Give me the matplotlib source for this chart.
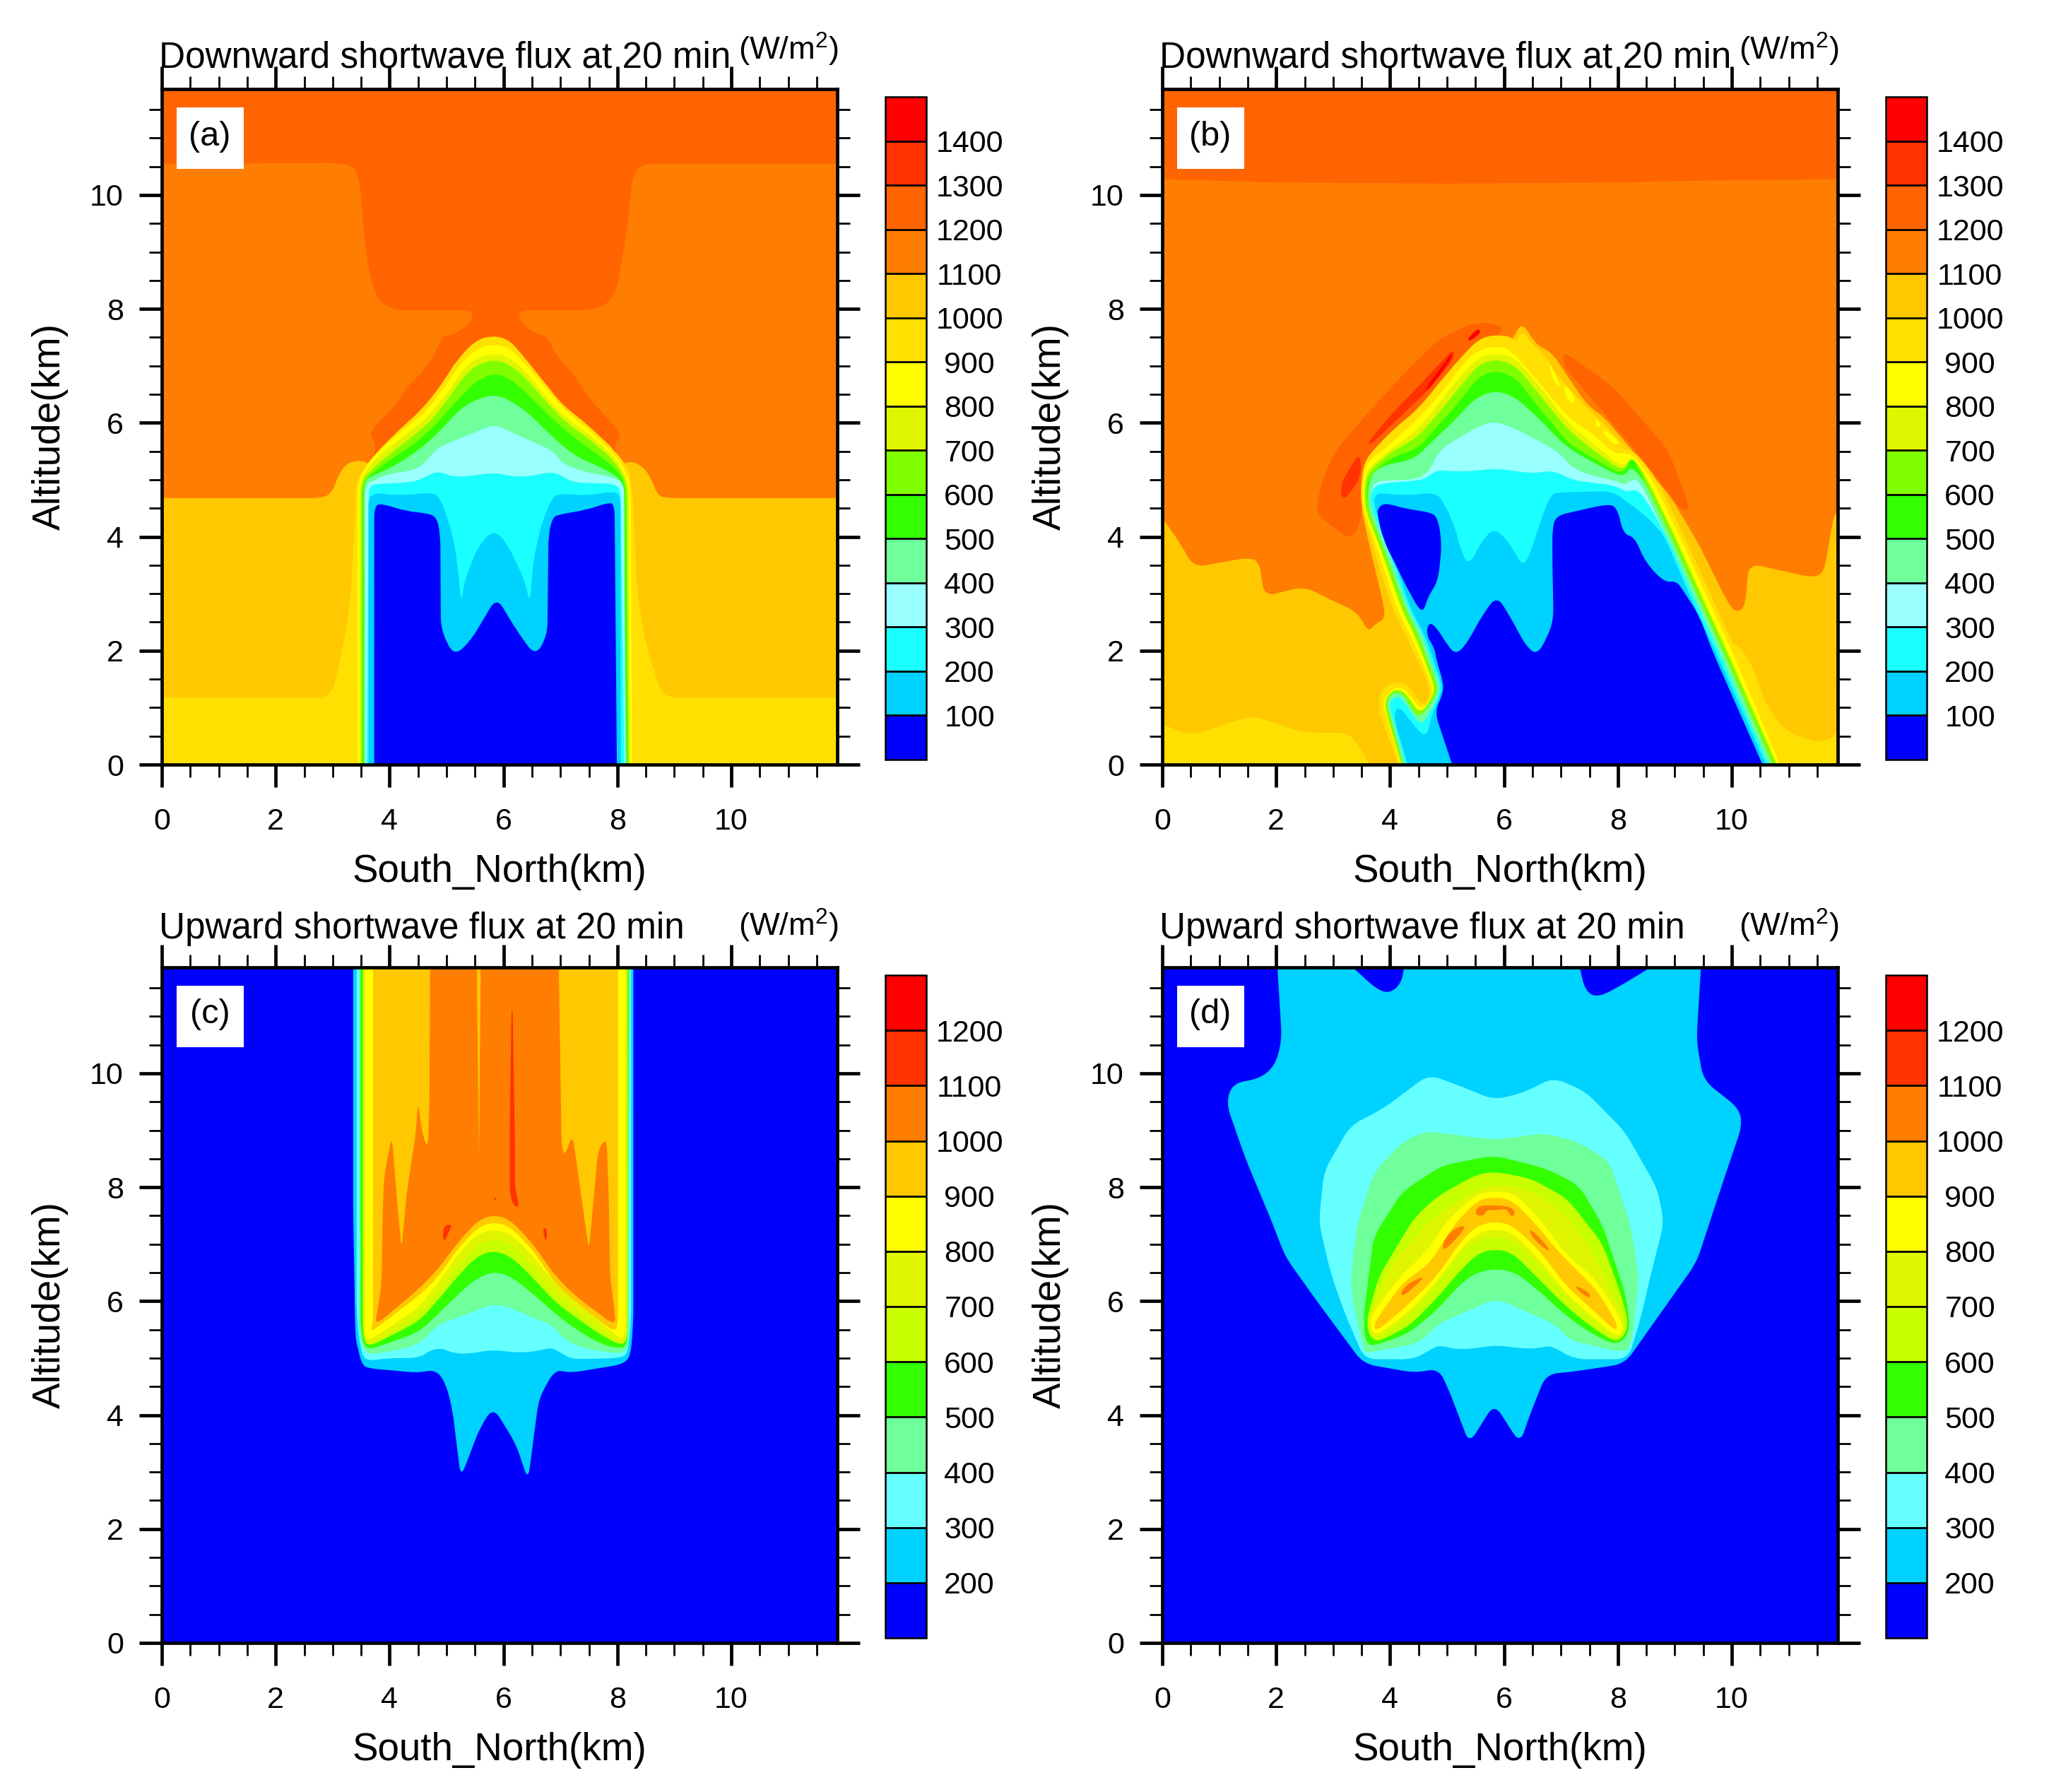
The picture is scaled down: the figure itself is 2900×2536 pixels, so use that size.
# -*- coding:utf-8 -*-
import numpy as np
import matplotlib
matplotlib.use('Agg')
import matplotlib.pyplot as plt
from matplotlib.colors import ListedColormap, BoundaryNorm
from matplotlib.cm import ScalarMappable
from matplotlib.patches import Rectangle, PathPatch
from matplotlib.path import Path
from matplotlib.ticker import MultipleLocator

plt.rcParams['font.family'] = ['Liberation Sans', 'DejaVu Sans']
plt.rcParams['mathtext.default'] = 'regular'

# colour levels
levels_down = [0, 100, 200, 300, 400, 500, 600, 700, 800, 900, 1000, 1100, 1200, 1300, 1400, 1500]
colors_down = ['#0000ff', '#00d2ff', '#1affff', '#99ffff', '#6fff9b', '#33ff00', '#80ff00', '#e0f500',
               '#ffff00', '#ffe000', '#ffc800', '#ff7d00', '#ff6400', '#ff3200', '#ff0000']
ticks_down = [100, 200, 300, 400, 500, 600, 700, 800, 900, 1000, 1100, 1200, 1300, 1400]
levels_up = [100, 200, 300, 400, 500, 600, 700, 800, 900, 1000, 1100, 1200, 1300]
colors_up = ['#0000ff', '#00d2ff', '#66ffff', '#6fff9b', '#33ff00', '#c8ff00', '#e0f500',
             '#ffff00', '#ffc800', '#ff7d00', '#ff3200', '#ff0000']
ticks_up = [200, 300, 400, 500, 600, 700, 800, 900, 1000, 1100, 1200]

# (a) contour outlines, km
a_1150_l = [(0, 0), (0, 10.55), (3.13, 10.56), (3.36, 10.51), (3.47, 10.3), (3.59, 8.9), (3.76, 8.2), (4.04, 7.98),
            (5.4, 7.98), (5.47, 7.92), (5.41, 7.74), (5.14, 7.55), (4.91, 7.53), (4.81, 7.22), (4.6, 6.91),
            (4.31, 6.64), (4.15, 6.35), (3.73, 5.94), (3.65, 5.77), (3.78, 5.63), (3.6, 5.0), (3.6, 0)]
a_1150_r = [(11.9, 0), (11.9, 10.55), (8.6, 10.55), (8.4, 10.52), (8.26, 10.3), (8.17, 9.4), (8.0, 8.4), (7.86, 8.1),
            (7.54, 7.98), (6.36, 7.98), (6.26, 7.92), (6.3, 7.76), (6.55, 7.57), (6.77, 7.53), (6.9, 7.2),
            (7.21, 6.89), (7.5, 6.43), (7.99, 5.9), (8.06, 5.73), (7.93, 5.63), (8.1, 5.0), (8.1, 0)]
a_1050_l = [(0, 0), (0, 4.68), (2.85, 4.68), (3.0, 4.8), (3.11, 5.11), (3.28, 5.32), (3.57, 5.34), (3.7, 5.2), (3.7, 0)]
a_1050_r = [(11.9, 0), (11.9, 4.68), (8.82, 4.68), (8.7, 4.74), (8.61, 4.99), (8.45, 5.24), (8.2, 5.34), (8.0, 5.2), (8.0, 0)]
a_950_l = [(0, 0), (0, 1.18), (2.96, 1.18), (3.08, 1.6), (3.24, 2.37), (3.32, 3.0), (3.42, 4.95), (3.6, 5.2), (3.6, 0)]
a_950_r = [(11.9, 0), (11.9, 1.18), (8.8, 1.18), (8.51, 2.07), (8.35, 3.0), (8.26, 4.9), (8.15, 5.2), (8.0, 0)]
a_950 = [(3.32, 0), (3.4, 4.9), (3.49, 5.11), (3.73, 5.44), (4.15, 5.86), (4.56, 6.23), (4.89, 6.64), (5.18, 7.1), (5.51, 7.45),
         (5.8, 7.53), (6.09, 7.47), (6.34, 7.18), (6.67, 6.77), (7.04, 6.31), (7.46, 5.98), (7.95, 5.52), (8.2, 5.19),
         (8.24, 4.99), (8.35, 0)]
a_850 = [(3.44, 0), (3.44, 4.9), (3.55, 5.2), (3.8, 5.5), (4.2, 5.85), (4.6, 6.15), (4.95, 6.6), (5.25, 7.05), (5.55, 7.32),
         (5.85, 7.38), (6.1, 7.32), (6.4, 7.02), (6.75, 6.6), (7.1, 6.2), (7.5, 5.88), (7.95, 5.45), (8.15, 5.15),
         (8.23, 4.9), (8.26, 0)]
a_750 = [(3.48, 0), (3.48, 4.95), (3.6, 5.2), (3.9, 5.5), (4.3, 5.8), (4.65, 6.08), (5.0, 6.5), (5.3, 6.95), (5.55, 7.15),
         (5.85, 7.22), (6.1, 7.15), (6.4, 6.9), (6.7, 6.5), (7.1, 6.08), (7.5, 5.8), (7.95, 5.4), (8.12, 5.12),
         (8.2, 4.9), (8.22, 0)]
a_650 = [(3.5, 0), (3.5, 4.95), (3.65, 5.15), (4.0, 5.45), (4.35, 5.72), (4.7, 6.0), (5.05, 6.45), (5.3, 6.82), (5.55, 7.03),
         (5.85, 7.11), (6.1, 7.03), (6.4, 6.78), (6.7, 6.42), (7.1, 6.0), (7.5, 5.72), (7.9, 5.38), (8.08, 5.12),
         (8.17, 4.9), (8.2, 0)]
a_550 = [(3.53, 0), (3.53, 4.95), (3.7, 5.12), (4.05, 5.38), (4.4, 5.6), (4.75, 5.9), (5.1, 6.3), (5.4, 6.62), (5.6, 6.78),
         (5.85, 6.87), (6.1, 6.78), (6.35, 6.58), (6.7, 6.22), (7.1, 5.85), (7.5, 5.55), (7.85, 5.3), (8.05, 5.1),
         (8.14, 4.9), (8.18, 0)]
a_450 = [(3.55, 0), (3.55, 4.95), (3.65, 5.05), (3.8, 5.11), (4.15, 5.28), (4.52, 5.53), (4.85, 5.82), (5.26, 6.27),
         (5.6, 6.44), (5.84, 6.49), (6.09, 6.41), (6.42, 6.19), (6.84, 5.77), (7.25, 5.42), (7.66, 5.24), (7.99, 5.07),
         (8.1, 4.9), (8.16, 0)]
a_350 = [(3.57, 0), (3.57, 4.9), (3.73, 4.99), (3.94, 5.09), (4.52, 5.19), (4.73, 5.44), (4.89, 5.59), (5.26, 5.73), (5.6, 5.88),
         (5.84, 5.97), (6.09, 5.86), (6.55, 5.65), (6.88, 5.5), (7.04, 5.28), (7.37, 5.15), (7.91, 5.05), (8.12, 4.95), (8.14, 0)]
a_250 = [(3.6, 0), (3.63, 4.8), (3.67, 4.9), (3.8, 4.93), (4.35, 4.95), (4.56, 5.01), (4.77, 5.13), (4.93, 5.13), (5.1, 5.05),
         (5.47, 5.07), (5.84, 5.13), (6.17, 5.05), (6.55, 5.07), (6.75, 5.13), (6.96, 5.11), (7.21, 4.95), (7.95, 4.93),
         (8.06, 4.82), (8.12, 0)]
a_150 = [(3.63, 0), (3.63, 4.78), (4.19, 4.72), (4.77, 4.78), (4.89, 4.66), (5.02, 4.33), (5.14, 3.87), (5.2, 3.42), (5.26, 2.82),
         (5.31, 3.21), (5.55, 3.83), (5.84, 4.14), (6.09, 3.83), (6.38, 3.21), (6.46, 2.82), (6.53, 3.62), (6.67, 4.24),
         (6.84, 4.66), (6.96, 4.76), (7.46, 4.72), (7.95, 4.8), (8.05, 4.7), (8.06, 0)]
a_50 = [(3.73, 0), (3.73, 4.55), (3.88, 4.58), (4.27, 4.45), (4.69, 4.41), (4.83, 4.33), (4.89, 4.04), (4.9, 2.37), (5.13, 1.9),
        (5.42, 2.17), (5.88, 2.94), (6.22, 2.37), (6.56, 1.9), (6.77, 2.27), (6.79, 4.04), (6.86, 4.33), (6.96, 4.39),
        (7.46, 4.47), (7.83, 4.6), (7.95, 4.57), (7.99, 0)]

# (b) background bands
b_1150 = [(0, 0), (0, 10.28), (2, 10.22), (5, 10.2), (8, 10.22), (9.3, 10.25), (11.9, 10.28), (11.9, 0)]
b_1250_l = [(3.32, 3.93), (2.85, 4.28), (2.7, 4.45), (2.73, 4.66), (2.85, 5.11), (3.05, 5.52), (3.54, 6.1), (4.27, 6.89),
            (4.86, 7.47), (5.45, 7.76), (5.89, 7.74), (6.0, 7.6), (5.5, 7.3), (4.5, 6.3), (3.5, 5.0), (3.5, 4.3)]
b_1250_r = [(7.04, 7.26), (7.95, 6.6), (8.88, 5.53), (9.27, 4.49), (9.13, 4.45), (8.49, 5.28), (7.71, 6.23), (7.04, 7.0)]
b_1350_a = [(3.12, 4.9), (3.17, 4.61), (3.5, 5.05), (3.47, 5.5)]
b_1350_b = [(3.61, 5.65), (3.98, 6.1), (4.62, 6.77), (5.11, 7.3), (5.13, 7.14), (4.66, 6.56), (4.22, 6.15), (3.64, 5.6)]
b_1450_a = [(4.62, 6.6), (4.96, 7.06), (5.11, 7.26), (5.06, 7.1), (4.66, 6.56)]
b_1450_b = [(5.35, 7.47), (5.55, 7.67), (5.6, 7.58), (5.4, 7.43)]
b_1050_l = [(0, 0), (0, 4.33), (0.32, 3.88), (0.55, 3.46), (1.47, 3.63), (1.7, 3.58), (1.79, 2.95), (2.5, 3.13), (2.9, 2.92),
            (3.44, 2.67), (3.61, 2.32), (3.76, 2.49), (3.9, 2.55), (3.9, 2.75), (3.6, 4.0), (3.48, 4.6), (3.7, 4.5), (5.5, 0)]
b_1050_r = [(11.9, 0), (11.9, 4.5), (11.79, 4.38), (11.62, 3.38), (11.44, 3.28), (10.3, 3.53), (10.23, 2.75), (10.06, 2.67),
            (9.91, 2.88), (9.42, 3.87), (8.93, 4.7), (8.44, 5.28), (8.0, 5.2), (9.0, 0)]
b_1050_up = [(6.0, 7.4), (6.16, 7.47), (6.31, 7.78), (6.58, 7.35), (6.82, 7.26), (7.46, 6.31), (7.76, 6.1), (8.24, 5.53),
             (8.49, 5.24), (8.4, 4.8), (7.0, 6.0), (6.0, 7.0)]
b_950_l = [(0, 0), (0, 0.71), (0.49, 0.51), (1.58, 0.86), (2.5, 0.56), (3.3, 0.56), (3.65, 0)]
b_950_r = [(10.0, 2.2), (10.32, 1.84), (10.6, 1.06), (10.93, 0.6), (11.49, 0.38), (11.82, 0.48), (11.9, 0.8), (11.9, 0), (10.0, 0)]
b_950_up = [(6.33, 7.63), (6.48, 7.39), (6.73, 7.18), (6.92, 6.85), (7.36, 6.35), (7.71, 6.02), (8.1, 5.6), (8.24, 5.48),
            (7.46, 6.02), (6.73, 6.72), (6.33, 7.26), (6.19, 7.43)]
b_850_a = [(6.78, 7.1), (6.92, 6.8), (7.0, 6.6), (6.85, 6.75)]
b_850_b = [(7.07, 6.7), (7.25, 6.45), (7.22, 6.3), (7.05, 6.5)]
b_850_c = [(7.6, 6.1), (7.72, 5.95), (7.62, 5.9)]
b_850_d = [(7.75, 5.9), (8.05, 5.65), (7.95, 5.6), (7.75, 5.8)]

# (b) cloud: left leg with the hook, top, right leg
b_leg_950 = [(4.15, 0), (3.87, 0.73), (3.77, 1.1), (3.9, 1.39), (4.17, 1.47), (4.37, 1.33), (4.56, 1.02), (4.7, 1.18), (4.67, 1.43),
             (4.53, 1.72), (4.28, 2.26), (4.05, 2.71), (3.75, 3.66), (3.49, 4.53)]
b_leg_850 = [(4.18, 0), (3.95, 0.8), (3.87, 1.06), (3.98, 1.29), (4.17, 1.37), (4.34, 1.24), (4.56, 0.93), (4.75, 1.22), (4.72, 1.43),
             (4.6, 1.72), (4.36, 2.26), (4.13, 2.71), (3.82, 3.66), (3.52, 4.53)]
b_leg_750 = [(4.2, 0), (3.97, 0.8), (3.9, 1.08), (4.0, 1.27), (4.17, 1.33), (4.33, 1.18), (4.53, 0.86), (4.78, 1.25), (4.76, 1.43),
             (4.65, 1.72), (4.44, 2.26), (4.21, 2.71), (3.88, 3.66), (3.55, 4.53)]
b_leg_550 = [(4.23, 0), (4.0, 0.85), (3.93, 1.08), (4.02, 1.24), (4.17, 1.28), (4.3, 1.13), (4.5, 0.78), (4.83, 1.25), (4.81, 1.45),
             (4.7, 1.72), (4.51, 2.26), (4.28, 2.71), (3.94, 3.66), (3.6, 4.53)]
b_leg_350 = [(4.27, 0), (4.04, 0.85), (3.98, 1.05), (4.06, 1.18), (4.17, 1.2), (4.28, 1.06), (4.55, 0.65), (4.88, 1.25), (4.85, 1.5),
             (4.75, 1.72), (4.58, 2.26), (4.33, 2.71), (4.0, 3.66), (3.66, 4.53)]
b_leg_150 = [(4.31, 0), (4.07, 0.8), (4.1, 0.98), (4.2, 0.98), (4.34, 0.78), (4.64, 0.44), (4.72, 0.85), (4.9, 1.25), (4.9, 1.45),
             (4.8, 1.72), (4.62, 2.26), (4.37, 2.71), (4.05, 3.66), (3.72, 4.53)]
b_top_950 = [(3.49, 4.99), (3.56, 5.36), (4.03, 5.86), (4.52, 6.27), (4.81, 6.64), (5.2, 7.1), (5.55, 7.47), (5.84, 7.55), (6.19, 7.5),
             (6.4, 7.2), (6.7, 6.85), (7.25, 6.25), (7.65, 5.95), (8.05, 5.55), (8.3, 5.5)]
b_top_850 = [(3.54, 5.25), (4.03, 5.65), (4.52, 6.1), (4.86, 6.48), (5.2, 6.93), (5.5, 7.26), (5.84, 7.35), (6.09, 7.3), (6.43, 6.93),
             (6.77, 6.52), (7.17, 6.06), (7.56, 5.81), (7.95, 5.44), (8.24, 5.48)]
b_top_750 = [(3.56, 5.15), (4.03, 5.55), (4.45, 5.85), (4.75, 6.2), (5.2, 6.78), (5.55, 7.15), (5.84, 7.22), (6.19, 7.15), (6.58, 6.7),
             (7.12, 6.0), (7.46, 5.72), (8.1, 5.2), (8.24, 5.45)]
b_top_650 = [(3.57, 5.1), (4.03, 5.5), (4.45, 5.72), (4.75, 6.05), (5.2, 6.6), (5.55, 7.02), (5.84, 7.12), (6.19, 7.02), (6.58, 6.55),
             (7.12, 5.88), (7.46, 5.6), (8.1, 5.14), (8.24, 5.42)]
b_top_550 = [(3.59, 5.03), (4.03, 5.4), (4.47, 5.53), (4.76, 5.86), (5.2, 6.35), (5.55, 6.81), (5.84, 6.92), (6.19, 6.81), (6.58, 6.31),
             (7.12, 5.65), (7.46, 5.44), (8.1, 5.07), (8.24, 5.45)]
b_top_450 = [(3.63, 5.03), (3.83, 5.24), (4.42, 5.36), (4.71, 5.65), (5.11, 6.02), (5.5, 6.44), (5.84, 6.57), (6.19, 6.46), (6.63, 6.06),
             (7.07, 5.6), (7.46, 5.36), (8.1, 5.03), (8.22, 5.25)]
b_top_350 = [(3.68, 4.9), (3.83, 4.99), (4.42, 5.0), (4.67, 5.11), (4.86, 5.52), (5.2, 5.73), (5.55, 5.94), (5.84, 6.03), (6.19, 5.9),
             (6.63, 5.67), (6.97, 5.48), (7.2, 5.2), (7.61, 5.05), (7.95, 4.99), (8.12, 4.9), (8.29, 5.03), (8.42, 4.9)]
b_top_250 = [(3.66, 4.78), (3.78, 4.93), (4.52, 4.99), (4.67, 5.05), (4.81, 5.17), (5.06, 5.15), (5.45, 5.15), (5.84, 5.2), (6.53, 5.11),
             (6.87, 5.17), (7.2, 4.99), (7.95, 4.9), (8.15, 4.78), (8.32, 4.84), (8.49, 4.66)]
b_top_150 = [(3.73, 4.78), (4.27, 4.72), (4.81, 4.78), (4.96, 4.57), (5.16, 4.12), (5.23, 3.79), (5.38, 3.48), (5.6, 3.91), (5.84, 4.17),
             (6.14, 3.83), (6.33, 3.46), (6.48, 3.75), (6.63, 4.24), (6.82, 4.74), (6.97, 4.78), (7.9, 4.8), (8.15, 4.62),
             (8.44, 4.41), (8.69, 4.16)]
b_rleg_950 = [(8.69, 5), (9.17, 4), (9.62, 3), (10.08, 2), (10.96, 0)]
b_rleg_850 = [(8.61, 5), (9.09, 4), (9.54, 3), (10.0, 2), (10.85, 0)]
b_rleg_750 = [(8.52, 5), (9.0, 4), (9.45, 3), (9.91, 2), (10.79, 0)]
b_rleg_550 = [(8.45, 5), (8.93, 4), (9.38, 3), (9.84, 2), (10.72, 0)]
b_rleg_350 = [(8.86, 4), (9.31, 3), (9.77, 2), (10.65, 0)]
b_rleg_150 = [(8.82, 4), (9.25, 3), (9.71, 2), (10.6, 0)]
b_50_a = [(3.78, 4.37), (3.78, 4.49), (3.9, 4.6), (4.27, 4.49), (4.71, 4.43), (4.84, 4.33), (4.91, 3.87), (4.84, 3.21), (4.67, 2.96),
          (4.57, 2.63), (4.35, 3.0), (4.08, 3.54), (3.88, 3.95)]
b_50_b = [(5.09, 0), (4.78, 0.93), (4.92, 1.22), (4.94, 1.43), (4.81, 1.84), (4.78, 2.05), (4.64, 2.26), (4.67, 2.5), (4.81, 2.42),
          (5.01, 2.09), (5.16, 1.93), (5.35, 2.13), (5.6, 2.59), (5.87, 2.97), (6.09, 2.63), (6.38, 2.09), (6.58, 1.92),
          (6.77, 2.26), (6.87, 2.55), (6.85, 3.54), (6.85, 4.16), (6.92, 4.37), (7.27, 4.45), (7.8, 4.57), (7.98, 4.53),
          (8.1, 4.04), (8.29, 4.0), (8.49, 3.54), (8.83, 3.19), (9.03, 3.23), (9.18, 3.0), (9.42, 2.63), (9.67, 1.97), (10.54, 0)]

# (c)
c_250 = [(3.36, 11.9), (3.36, 7.6), (3.4, 5.35), (3.44, 5.19), (3.51, 4.9), (3.61, 4.82), (4.11, 4.78), (4.48, 4.74), (4.81, 4.8),
         (4.98, 4.57), (5.1, 4.12), (5.25, 2.9), (5.59, 3.79), (5.82, 4.14), (6.22, 3.49), (6.43, 2.85), (6.62, 4.29), (6.9, 4.8),
         (7.17, 4.74), (7.66, 4.82), (8.14, 4.9), (8.24, 5.1), (8.28, 5.69), (8.28, 11.9)]
c_350 = [(3.42, 11.9), (3.42, 5.8), (3.48, 5.2), (3.57, 4.94), (3.94, 5.0), (4.52, 5.0), (4.73, 5.15), (4.93, 5.17), (5.1, 5.09),
         (5.39, 5.07), (5.8, 5.15), (6.26, 5.09), (6.63, 5.13), (6.84, 5.19), (7.04, 5.07), (7.21, 4.98), (8.04, 5.0), (8.18, 5.07),
         (8.24, 5.69), (8.24, 11.9)]
c_450 = [(3.47, 11.9), (3.47, 5.5), (3.55, 5.05), (4.1, 5.13), (4.54, 5.25), (4.85, 5.6), (5.26, 5.73), (5.6, 5.87), (5.84, 5.95),
         (6.17, 5.87), (6.55, 5.69), (6.84, 5.6), (7.08, 5.31), (7.42, 5.17), (8.08, 5.07), (8.2, 5.2), (8.22, 11.9)]
c_550 = [(3.49, 11.9), (3.49, 5.5), (3.57, 5.13), (3.94, 5.25), (4.52, 5.46), (4.85, 5.77), (5.18, 6.1), (5.51, 6.39), (5.84, 6.53),
         (6.17, 6.41), (6.55, 6.1), (6.92, 5.77), (7.25, 5.52), (7.66, 5.27), (7.99, 5.17), (8.17, 5.2), (8.2, 11.9)]
c_650 = [(3.53, 11.9), (3.53, 5.4), (3.61, 5.19), (3.94, 5.35), (4.52, 5.65), (4.85, 6.02), (5.26, 6.51), (5.55, 6.8), (5.84, 6.89),
         (6.13, 6.78), (6.42, 6.51), (6.92, 5.97), (7.25, 5.73), (7.66, 5.44), (7.99, 5.25), (8.12, 5.25), (8.18, 5.4), (8.18, 11.9)]
c_750 = [(3.55, 11.9), (3.55, 5.4), (3.61, 5.22), (3.94, 5.4), (4.52, 5.78), (4.85, 6.15), (5.26, 6.7), (5.55, 7.0), (5.84, 7.09),
         (6.13, 7.0), (6.42, 6.7), (6.92, 6.12), (7.25, 5.85), (7.66, 5.55), (7.99, 5.3), (8.12, 5.27), (8.16, 5.5), (8.16, 11.9)]
c_850 = [(3.57, 11.9), (3.57, 5.4), (3.62, 5.3), (3.94, 5.5), (4.52, 5.9), (4.85, 6.32), (5.26, 6.9), (5.55, 7.18), (5.84, 7.26),
         (6.13, 7.18), (6.42, 6.9), (6.92, 6.3), (7.25, 6.0), (7.66, 5.68), (7.99, 5.38), (8.1, 5.33), (8.14, 5.5), (8.14, 11.9)]
c_950 = [(3.71, 11.9), (3.71, 5.6), (3.65, 5.44), (4.52, 6.1), (4.85, 6.42), (5.18, 6.9), (5.55, 7.3), (5.84, 7.39), (6.13, 7.3),
         (6.51, 6.9), (6.92, 6.3), (7.25, 6.0), (7.95, 5.45), (8.01, 5.6), (8.01, 11.9)]
c_1050 = [(3.73, 5.56), (3.8, 5.9), (3.86, 6.31), (3.88, 7.6), (3.9, 8.17), (4.04, 8.91), (4.12, 7.9), (4.21, 6.89), (4.3, 7.9),
          (4.46, 8.95), (4.5, 9.52), (4.56, 8.99), (4.67, 8.66), (4.7, 9.5), (4.71, 11.9), (6.97, 11.9), (7.02, 8.71), (7.08, 8.54),
          (7.21, 8.95), (7.5, 6.88), (7.66, 8.66), (7.81, 8.87), (7.85, 7.75), (7.87, 6.43), (7.95, 5.85), (7.97, 5.56), (7.25, 6.1),
          (6.92, 6.43), (6.51, 7.01), (6.13, 7.42), (5.84, 7.52), (5.55, 7.42), (5.18, 7.01), (4.85, 6.56), (4.52, 6.22)]
c_950_sliver = [(5.53, 11.9), (5.6, 11.9), (5.57, 8.5)]
c_1150_a = [(6.14, 11.12), (6.11, 9.0), (6.11, 7.85), (6.2, 7.65), (6.28, 7.67), (6.2, 7.96), (6.2, 8.8), (6.16, 11.12)]
c_1150_b = [(4.93, 7.22), (4.95, 7.01), (5.06, 7.26), (5.1, 7.34), (4.98, 7.34)]
c_1150_c = [(6.69, 7.22), (6.75, 7.01), (6.77, 7.24), (6.72, 7.3)]
c_1150_d = [(5.82, 7.8), (5.86, 7.76), (5.88, 7.82)]

# (d)
d_250 = [(2.02, 11.9), (2.1, 10.58), (1.98, 10.13), (1.7, 9.9), (1.24, 9.83), (1.12, 9.48), (1.47, 8.48), (1.93, 7.38), (2.16, 6.78),
         (2.73, 5.98), (3.53, 4.9), (4.45, 4.74), (4.85, 4.82), (5.02, 4.47), (5.25, 3.87), (5.39, 3.5), (5.83, 4.2), (6.28, 3.5),
         (6.46, 4.02), (6.74, 4.72), (7.2, 4.76), (8.12, 4.9), (9.38, 6.68), (9.84, 8.08), (10.18, 9.08), (10.13, 9.38), (9.5, 9.88),
         (9.38, 10.58), (9.46, 11.9), (8.64, 11.9), (8.12, 11.58), (7.66, 11.33), (7.43, 11.43), (7.32, 11.9), (4.25, 11.9), (4.2, 11.58),
         (3.99, 11.4), (3.76, 11.48), (3.3, 11.9)]
d_350 = [(3.55, 4.98), (4.42, 4.98), (4.71, 5.15), (4.87, 5.23), (5.16, 5.15), (5.49, 5.17), (5.86, 5.23), (6.28, 5.17), (6.61, 5.17),
         (6.82, 5.23), (7.23, 4.98), (8.18, 4.98), (8.4, 5.7), (8.58, 6.48), (8.81, 7.38), (8.69, 7.98), (8.12, 8.98), (7.43, 9.68),
         (6.86, 9.93), (6.4, 9.68), (5.83, 9.53), (5.3, 9.75), (4.68, 9.98), (3.88, 9.38), (3.3, 9.08), (2.84, 8.28), (2.75, 7.38),
         (2.96, 6.48), (3.2, 5.8)]
d_450 = [(3.55, 5.11), (3.59, 5.09), (4.54, 5.27), (4.83, 5.6), (5.33, 5.81), (5.86, 6.05), (6.4, 5.81), (6.9, 5.6), (7.15, 5.31),
         (8.14, 5.09), (8.25, 5.3), (8.37, 6.43), (8.22, 7.34), (7.85, 8.46), (7.31, 8.79), (6.73, 8.95), (5.82, 8.83), (4.62, 8.99),
         (4.21, 8.79), (3.71, 8.25), (3.42, 7.34), (3.32, 6.51), (3.32, 6.1)]
d_550 = [(3.57, 5.27), (3.71, 5.21), (4.33, 5.44), (4.83, 5.85), (5.24, 6.31), (5.53, 6.51), (5.86, 6.57), (6.2, 6.51), (6.61, 6.18),
         (7.11, 5.73), (7.52, 5.44), (8.0, 5.21), (8.22, 5.48), (8.14, 6.1), (7.73, 7.34), (7.31, 8.04), (6.73, 8.33), (5.82, 8.56),
         (4.91, 8.38), (4.21, 7.92), (3.71, 7.13), (3.53, 5.69)]
d_650 = [(3.71, 5.25), (4.33, 5.56), (4.83, 6.06), (5.24, 6.55), (5.57, 6.86), (5.86, 6.91), (6.15, 6.85), (6.61, 6.39), (7.11, 5.89),
         (7.52, 5.56), (8.0, 5.25), (8.2, 5.56), (8.06, 6.1), (7.73, 7.01), (7.11, 7.8), (6.48, 8.15), (5.86, 8.27), (5.53, 8.23),
         (4.83, 7.84), (4.42, 7.46), (3.8, 6.43), (3.57, 5.6)]
d_750 = [(3.71, 5.31), (4.33, 5.73), (4.83, 6.31), (5.24, 6.84), (5.53, 7.09), (5.86, 7.15), (6.15, 7.08), (6.61, 6.64), (7.11, 6.06),
         (7.52, 5.68), (8.0, 5.31), (8.14, 5.52), (8.0, 5.89), (7.6, 6.8), (7.11, 7.5), (6.48, 7.94), (5.82, 8.06), (5.24, 7.8),
         (4.62, 7.34), (4.0, 6.6), (3.59, 5.64)]
d_850 = [(3.72, 5.36), (4.33, 5.82), (4.83, 6.35), (5.24, 6.92), (5.53, 7.2), (5.86, 7.27), (6.15, 7.2), (6.61, 6.74), (7.11, 6.12),
         (7.52, 5.75), (7.99, 5.36), (8.12, 5.52), (8.0, 5.77), (7.6, 6.39), (7.11, 6.8), (6.61, 7.46), (6.2, 7.88), (5.86, 7.94),
         (5.53, 7.88), (5.04, 7.46), (4.62, 6.85), (4.17, 6.43), (3.63, 5.69)]
d_950 = [(3.75, 5.46), (4.33, 5.95), (4.83, 6.45), (5.24, 7.05), (5.53, 7.33), (5.86, 7.4), (6.15, 7.33), (6.61, 6.9), (7.11, 6.25),
         (7.52, 5.88), (7.97, 5.46), (7.99, 5.6), (7.64, 6.18), (7.31, 6.51), (6.9, 6.93), (6.57, 7.34), (6.15, 7.77), (5.86, 7.83),
         (5.53, 7.77), (5.12, 7.34), (4.71, 6.68), (4.21, 6.31), (3.71, 5.6)]
d_1050_a = [(5.53, 7.67), (5.49, 7.51), (5.64, 7.49), (5.7, 7.61), (5.86, 7.59), (6.05, 7.63), (6.11, 7.49), (6.2, 7.51), (6.15, 7.65), (5.82, 7.69)]
d_1050_b = [(5.29, 7.34), (5.31, 7.26), (4.95, 6.87), (4.91, 7.01), (5.08, 7.24)]
d_1050_c = [(4.64, 6.45), (4.21, 6.06), (4.19, 6.18), (4.38, 6.35)]
d_1050_d = [(6.44, 7.3), (6.8, 6.93), (6.77, 6.87), (6.48, 7.13)]
d_1050_e = [(7.23, 6.29), (7.52, 6.14), (7.5, 6.04), (7.31, 6.18)]

layers_a = [(1150, a_1150_l), (1150, a_1150_r), (1050, a_1050_l), (1050, a_1050_r), (950, a_950_l), (950, a_950_r),
            (950, a_950), (850, a_850), (750, a_750), (650, a_650), (550, a_550), (450, a_450), (350, a_350),
            (250, a_250), (150, a_150), (50, a_50)]
layers_b = [(1150, b_1150), (1250, b_1250_l), (1250, b_1250_r), (1350, b_1350_a), (1350, b_1350_b), (1450, b_1450_a), (1450, b_1450_b),
            (1050, b_1050_l), (1050, b_1050_r), (1050, b_1050_up), (950, b_950_l), (950, b_950_r),
            (950, b_leg_950 + b_top_950 + b_rleg_950), (950, b_950_up),
            (850, b_850_a), (850, b_850_b), (850, b_850_c), (850, b_850_d),
            (850, b_leg_850 + b_top_850 + b_rleg_850), (750, b_leg_750 + b_top_750 + b_rleg_750),
            (650, b_leg_750 + b_top_650 + b_rleg_750), (550, b_leg_550 + b_top_550 + b_rleg_550),
            (450, b_leg_550 + b_top_450 + b_rleg_550), (350, b_leg_350 + b_top_350 + b_rleg_350),
            (250, b_leg_350 + b_top_250 + b_rleg_350), (150, b_leg_150 + b_top_150 + b_rleg_150),
            (50, b_50_a), (50, b_50_b)]
layers_c = [(250, c_250), (350, c_350), (450, c_450), (550, c_550), (650, c_650), (750, c_750), (850, c_850), (950, c_950),
            (1050, c_1050), (950, c_950_sliver), (1150, c_1150_a), (1150, c_1150_b), (1150, c_1150_c), (1150, c_1150_d)]
layers_d = [(250, d_250), (350, d_350), (450, d_450), (550, d_550), (650, d_650), (750, d_750), (850, d_850), (950, d_950),
            (1050, d_1050_a), (1050, d_1050_b), (1050, d_1050_c), (1050, d_1050_d), (1050, d_1050_e)]

W, H = 2900, 2536
top_limit = 11.86
fs = 31
corner = 0.22

fig = plt.figure(figsize=(W / 100, H / 100), dpi=100, facecolor='white')


# outline with rounded corners, vertices on the frame stay sharp
def rounded_path(pts):
    pts = np.array(pts, dtype=float)
    n = len(pts)
    verts, codes = [], []
    for i in range(n):
        p, a, b = pts[i], pts[i - 1], pts[(i + 1) % n]
        on_edge = p[0] <= 0 or p[0] >= 11.9 or p[1] <= 0 or p[1] >= 11.9
        if on_edge:
            verts.append(p)
            codes.append(Path.LINETO)
            continue
        la = np.hypot(*(a - p)) + 1e-9
        lb = np.hypot(*(b - p)) + 1e-9
        verts += [p + (a - p) * min(corner / la, 0.5), p, p + (b - p) * min(corner / lb, 0.5)]
        codes += [Path.LINETO, Path.CURVE3, Path.CURVE3]
    codes[0] = Path.MOVETO
    verts.append(verts[0])
    codes.append(Path.CLOSEPOLY)
    return Path(verts, codes)


def make_panel(left, top, layers, bg, levels, colors, ticks, title, tag, title_pad, unit_pad):
    ax = fig.add_axes([left / W, 1 - (top + 956) / H, 956 / W, 956 / H])
    cmap = ListedColormap(colors)
    norm = BoundaryNorm(levels, cmap.N)
    ax.set_facecolor(cmap(norm(bg)))
    for value, pts in layers:
        ax.add_patch(PathPatch(rounded_path(pts), facecolor=cmap(norm(value)), edgecolor='none', lw=0))
    ax.set_xlim(0, top_limit)
    ax.set_ylim(0, top_limit)
    ax.xaxis.set_major_locator(MultipleLocator(2))
    ax.yaxis.set_major_locator(MultipleLocator(2))
    ax.xaxis.set_minor_locator(MultipleLocator(0.5))
    ax.yaxis.set_minor_locator(MultipleLocator(0.5))
    ax.tick_params(which='major', direction='out', length=23, width=3.4, top=True, right=True, labelsize=fs)
    ax.tick_params(which='minor', direction='out', length=13, width=2.0, top=True, right=True)
    ax.tick_params(axis='x', which='major', pad=21)
    ax.tick_params(axis='y', which='major', pad=16)
    for s in ax.spines.values():
        s.set_linewidth(3.4)
    ax.set_xlabel('South_North(km)', fontsize=39.4, labelpad=18)
    ax.set_ylabel('Altitude(km)', fontsize=39.5, labelpad=22)
    ax.text(-4 / 956, 1 + title_pad / 956, title, transform=ax.transAxes, fontsize=36.9, ha='left', va='baseline')
    ax.text(1.002, 1 + unit_pad / 956, '(W/m$^{2}$)', transform=ax.transAxes, fontsize=32.7, ha='right', va='baseline')
    ax.add_patch(Rectangle((21 / 956, 1 - 113 / 956), 95 / 956, 87 / 956, transform=ax.transAxes, fc='white', ec='none', zorder=5))
    ax.text(68 / 956, 1 - 67 / 956, tag, transform=ax.transAxes, fontsize=35, ha='center', va='center', zorder=6)

    # colour bar next to the panel
    cax = fig.add_axes([(left + 1024) / W, 1 - (top + 949) / H, 58 / W, 938 / H])
    cb = fig.colorbar(ScalarMappable(norm=norm, cmap=cmap), cax=cax, ticks=ticks, spacing='uniform', drawedges=True)
    cb.dividers.set_color('black')
    cb.dividers.set_linewidth(2)
    cb.outline.set_linewidth(1.8)
    cax.tick_params(length=0, labelsize=fs, pad=44)
    cax.minorticks_off()
    for lab in cax.get_yticklabels():
        lab.set_ha('center')
    return ax


make_panel(229, 126, layers_a, 1250, levels_down, colors_down, ticks_down, 'Downward shortwave flux at 20 min', '(a)', 31, 41)
make_panel(1645, 126, layers_b, 1250, levels_down, colors_down, ticks_down, 'Downward shortwave flux at 20 min', '(b)', 31, 41)
make_panel(229, 1369, layers_c, 150, levels_up, colors_up, ticks_up, 'Upward shortwave flux at 20 min', '(c)', 41, 44)
make_panel(1645, 1369, layers_d, 150, levels_up, colors_up, ticks_up, 'Upward shortwave flux at 20 min', '(d)', 41, 44)

fig.savefig('out.png', dpi=100)
